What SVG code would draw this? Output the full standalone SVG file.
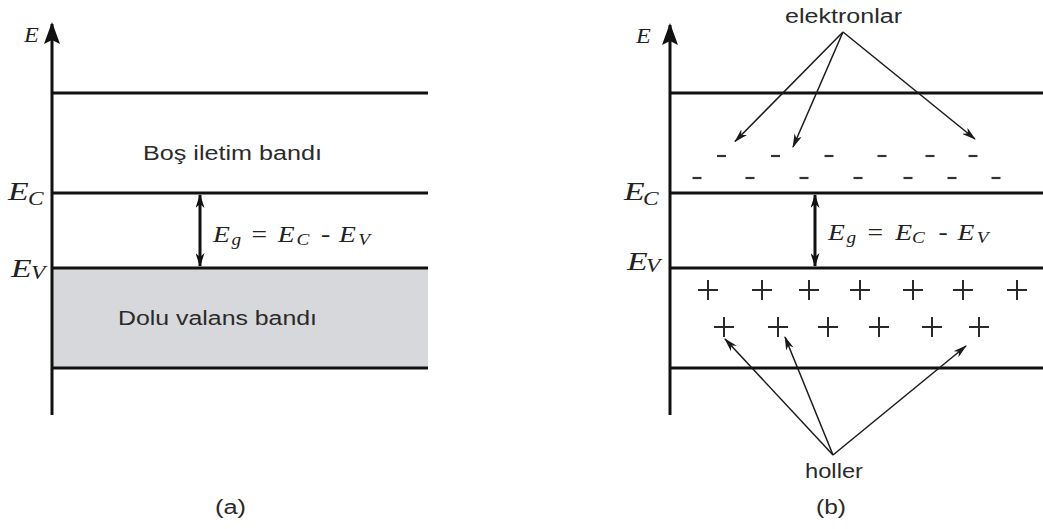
<svg xmlns="http://www.w3.org/2000/svg" width="1043" height="529" viewBox="0 0 1043 529">
<style>
.band{stroke:#111;stroke-width:3;fill:none}
.axis{stroke:#111;stroke-width:3;fill:none}
.sans{font-family:"Liberation Sans",Arial,sans-serif;font-size:20px;fill:#2a2a2a}
.math{font-family:"Liberation Serif","Times New Roman",serif;font-style:italic;fill:#222}
.up{font-style:normal}
.thin{stroke:#1a1a1a;stroke-width:1.5;fill:none}
.gap{stroke:#111;stroke-width:3;fill:none}
.dash{stroke:#333;stroke-width:2.2}
.plus{stroke:#2a2a2a;stroke-width:2}
</style>
<defs>
<marker id="ah" viewBox="0 0 14 8" refX="13" refY="4" markerWidth="14" markerHeight="8" markerUnits="userSpaceOnUse" orient="auto">
<path d="M0,0 L14,4 L0,8 L4,4 Z" fill="#1a1a1a"/>
</marker>
<marker id="gh" viewBox="0 0 14 9" refX="13" refY="4.5" markerWidth="14" markerHeight="9" markerUnits="userSpaceOnUse" orient="auto-start-reverse">
<path d="M0,0 L14,4.5 L0,9 L4,4.5 Z" fill="#111"/>
</marker>
<marker id="axh" viewBox="0 0 22 18" refX="20" refY="9" markerWidth="22" markerHeight="18" markerUnits="userSpaceOnUse" orient="auto">
<path d="M0,1 L22,9 L0,17 L4,9 Z" fill="#111"/>
</marker>
</defs>
<rect width="1043" height="529" fill="#fff"/>

<!-- Panel (a) -->
<g id="valence-band-a">
<rect x="52" y="268" width="376" height="100" fill="#d7d8dc"/>
</g>
<g id="axis-a">
<line class="axis" x1="52" y1="415" x2="52" y2="24" marker-end="url(#axh)"/>
<text class="math" transform="translate(24,42) scale(1.1,1)" font-size="22">E</text>
</g>
<g id="levels-a">
<line class="band" x1="52" y1="93" x2="428" y2="93"/>
<line class="band" x1="52" y1="193" x2="428" y2="193"/>
<line class="band" x1="52" y1="268" x2="428" y2="268"/>
<line class="band" x1="52" y1="368" x2="428" y2="368"/>
</g>
<g id="label-ec-a">
<text class="math" transform="translate(8,200) scale(1.3,1)" font-size="26">E</text>
<text class="math" transform="translate(28,205) scale(1.3,1)" font-size="18">C</text>
</g>
<g id="label-ev-a">
<text class="math" transform="translate(11,277) scale(1.3,1)" font-size="26">E</text>
<text class="math" transform="translate(31,279) scale(1.3,1)" font-size="18">V</text>
</g>
<g id="conduction-a">
<text class="sans" x="143" y="160" textLength="179" lengthAdjust="spacingAndGlyphs">Boş iletim bandı</text>
</g>
<g id="valence-label-a">
<text class="sans" x="118" y="325" textLength="199" lengthAdjust="spacingAndGlyphs">Dolu valans bandı</text>
</g>
<g id="gap-label-a">
<g transform="translate(213,242) scale(1.2,1)">
<text class="math" font-size="23" x="0" y="0">E</text>
<text class="math" font-size="16" x="15.5" y="3">g</text>
<text class="math up" font-size="23" x="32" y="0">=</text>
<text class="math" font-size="23" x="54" y="0">E</text>
<text class="math" font-size="16" x="69.5" y="3">C</text>
<text class="math up" font-size="23" x="90" y="0">-</text>
<text class="math" font-size="23" x="105" y="0">E</text>
<text class="math" font-size="16" x="121" y="3">V</text>
</g>
</g>
<g id="caption-a">
<text class="sans" x="215" y="514" textLength="31" lengthAdjust="spacingAndGlyphs">(a)</text>
</g>

<!-- Panel (b) -->
<g id="axis-b">
<line class="axis" x1="670" y1="415" x2="670" y2="25" marker-end="url(#axh)"/>
<text class="math" transform="translate(636,43) scale(1.1,1)" font-size="22">E</text>
</g>
<g id="levels-b">
<line class="band" x1="670" y1="93" x2="1043" y2="93"/>
<line class="band" x1="670" y1="193" x2="1043" y2="193"/>
<line class="band" x1="670" y1="268" x2="1043" y2="268"/>
<line class="band" x1="670" y1="368" x2="1043" y2="368"/>
</g>
<g id="label-ec-b">
<text class="math" transform="translate(624,200) scale(1.3,1)" font-size="26">E</text>
<text class="math" transform="translate(643,205) scale(1.3,1)" font-size="18">C</text>
</g>
<g id="label-ev-b">
<text class="math" transform="translate(627,270) scale(1.3,1)" font-size="26">E</text>
<text class="math" transform="translate(646,272) scale(1.3,1)" font-size="18">V</text>
</g>
<g id="gap-label-b">
<g transform="translate(828,240) scale(1.2,1)">
<text class="math" font-size="23" x="0" y="0">E</text>
<text class="math" font-size="16" x="15.5" y="3">g</text>
<text class="math up" font-size="23" x="33" y="0">=</text>
<text class="math" font-size="23" x="56" y="0">E</text>
<text class="math" font-size="16" x="70" y="3">C</text>
<text class="math up" font-size="23" x="92" y="0">-</text>
<text class="math" font-size="23" x="108" y="0">E</text>
<text class="math" font-size="16" x="124" y="3">V</text>
</g>
</g>
<g id="electrons">
<g class="dash">
<line x1="717" y1="156" x2="726" y2="156"/>
<line x1="771" y1="156" x2="780" y2="156"/>
<line x1="824.5" y1="156" x2="833.5" y2="156"/>
<line x1="877.5" y1="156" x2="886.5" y2="156"/>
<line x1="925.5" y1="156" x2="934.5" y2="156"/>
<line x1="968.5" y1="156" x2="977.5" y2="156"/>
<line x1="692.5" y1="178" x2="701.5" y2="178"/>
<line x1="745.5" y1="178" x2="754.5" y2="178"/>
<line x1="799.5" y1="178" x2="808.5" y2="178"/>
<line x1="853.5" y1="178" x2="862.5" y2="178"/>
<line x1="903.5" y1="178" x2="912.5" y2="178"/>
<line x1="947.5" y1="178" x2="956.5" y2="178"/>
<line x1="991.5" y1="178" x2="1000.5" y2="178"/>
</g>
</g>
<g id="holes">
<g class="plus">
<path d="M698,290 h20 M708,280 v20"/>
<path d="M752,290 h20 M762,280 v20"/>
<path d="M799,290 h20 M809,280 v20"/>
<path d="M850,290 h20 M860,280 v20"/>
<path d="M903,290 h20 M913,280 v20"/>
<path d="M953,290 h20 M963,280 v20"/>
<path d="M1007,290 h20 M1017,280 v20"/>
<path d="M714,327 h20 M724,317 v20"/>
<path d="M768,327 h20 M778,317 v20"/>
<path d="M818,327 h20 M828,317 v20"/>
<path d="M869,327 h20 M879,317 v20"/>
<path d="M922,327 h20 M932,317 v20"/>
<path d="M969,327 h20 M979,317 v20"/>
</g>
</g>
<g id="label-elektronlar">
<text class="sans" x="785" y="23" textLength="117" lengthAdjust="spacingAndGlyphs">elektronlar</text>
</g>
<g id="label-holler">
<text class="sans" x="805" y="478" textLength="58" lengthAdjust="spacingAndGlyphs">holler</text>
</g>
<g id="caption-b">
<text class="sans" x="816" y="514" textLength="30" lengthAdjust="spacingAndGlyphs">(b)</text>
</g>

<!-- Connectors -->
<g id="connectors">
<line class="gap" x1="200" y1="195" x2="200" y2="266" marker-start="url(#gh)" marker-end="url(#gh)"/>
<line class="gap" x1="815" y1="195" x2="815" y2="266" marker-start="url(#gh)" marker-end="url(#gh)"/>
<line class="thin" x1="843" y1="32" x2="735" y2="141.5" marker-end="url(#ah)"/>
<line class="thin" x1="843" y1="32" x2="793" y2="147" marker-end="url(#ah)"/>
<line class="thin" x1="843" y1="32" x2="975" y2="139" marker-end="url(#ah)"/>
<line class="thin" x1="833" y1="455" x2="725" y2="339" marker-end="url(#ah)"/>
<line class="thin" x1="833" y1="455" x2="785" y2="337" marker-end="url(#ah)"/>
<line class="thin" x1="833" y1="455" x2="966" y2="346" marker-end="url(#ah)"/>
</g>
</svg>
